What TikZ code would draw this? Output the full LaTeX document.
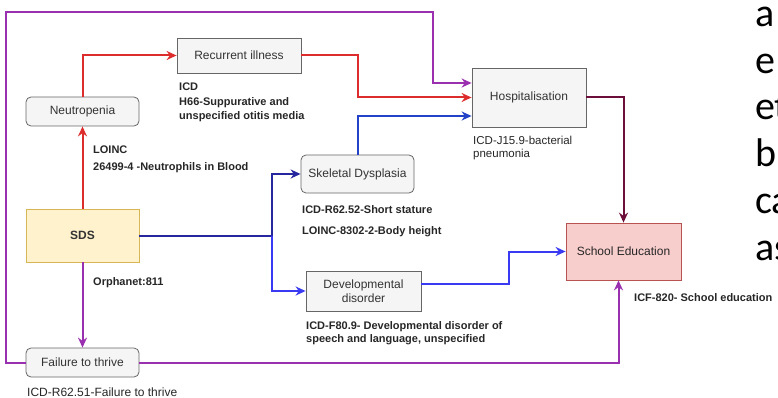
\documentclass[tikz,border=0pt]{standalone}
\usepackage{fontspec}
\setmainfont{Liberation Sans}
\newfontfamily\slidefont{Carlito}
\usetikzlibrary{positioning, calc, arrows.meta}
\definecolor{boxgray}{HTML}{F5F5F5}
\definecolor{boxline}{HTML}{666666}
\definecolor{boxtext}{HTML}{333333}
\definecolor{sdsfill}{HTML}{FFF2CC}
\definecolor{sdsline}{HTML}{D6B656}
\definecolor{schoolfill}{HTML}{F8CECC}
\definecolor{schoolline}{HTML}{B85450}
\definecolor{redl}{HTML}{DD2C2C}
\definecolor{purp}{HTML}{9A30B0}
\definecolor{navy}{HTML}{26269E}
\definecolor{midblue}{HTML}{2442C8}
\definecolor{brightblue}{HTML}{3A3AF2}
\definecolor{maroon}{HTML}{6B0F3A}
\tikzset{box/.style={draw=boxline, fill=boxgray, line width=0.8pt, text=boxtext, font=\fontsize{12}{14}\selectfont, align=center, inner sep=2pt},
rbox/.style={box, rounded corners=5pt},
code/.style={font=\bfseries\fontsize{11}{14}\selectfont, text=black!85, align=left, anchor=north west, inner sep=0pt},
plaincode/.style={code, font=\fontsize{11.5}{13}\selectfont},
slide/.style={anchor=base west, inner sep=0pt, font=\slidefont\fontsize{40}{46}\selectfont},
line/.style={-{Stealth[length=10pt,width=9pt]}, line width=2pt}
}

\begin{document}
\begin{tikzpicture}[x=1pt, y=-1pt]
\useasboundingbox (0,0) rectangle (778,398);
\node[box, minimum width=124pt, minimum height=35pt] (recur) at (239,55.5) {Recurrent illness};
\node[rbox, minimum width=113pt, minimum height=29pt] (neutro) at (82.5,111.5) {Neutropenia};
\node[box, minimum width=114pt, minimum height=59pt] (hosp) at (529,97.5) {Hospitalisation};
\node[rbox, minimum width=113pt, minimum height=38pt] (skel) at (357.5,174) {Skeletal Dysplasia};
\node[box, draw=sdsline, fill=sdsfill, font=\bfseries\fontsize{12}{14}\selectfont, minimum width=113pt, minimum height=53pt] (sds) at (82.5,235.5) {SDS};
\node[box, minimum width=115pt, minimum height=40pt] (devel) at (363.5,291) {Developmental\\disorder};
\node[box, draw=schoolline, fill=schoolfill, text=black!85, minimum width=115pt, minimum height=57pt] (school) at (623.5,251.5) {School Education};
\node[rbox, minimum width=113pt, minimum height=29pt] (ftt) at (82.5,362.5) {Failure to thrive};
\coordinate (split) at (272,235.5);
\coordinate (loopleft) at (6,12);
\coordinate (looptop) at (433,12);
% codes
\node[code] (icdrecur) at (179,82.5) {ICD\\[1pt]H66-Suppurative and\\unspecified otitis media};
\node[code] (loincneutro) at (93,145.5) {LOINC\\[3pt]26499-4 -Neutrophils in Blood};
\node[plaincode] (icdhosp) at (473,135.5) {ICD-J15.9-bacterial\\pneumonia};
\node[code] (icdskel) at (302,205.5) {ICD-R62.52-Short stature\\[7pt]LOINC-8302-2-Body height};
\node[code, anchor=west] (orpha) at (93,283) {Orphanet:811};
\node[code, font=\bfseries\fontsize{11}{13}\selectfont] (icddevel) at (306,321.5) {ICD-F80.9- Developmental disorder of\\speech and language, unspecified};
\node[code, anchor=west] (icfschool) at (634,298) {ICF-820- School education};
\node[plaincode, anchor=west, font=\fontsize{12}{14}\selectfont] (icdftt) at (27,392) {ICD-R62.51-Failure to thrive};
% slide text behind the figure
\foreach \w [count=\i] in {a,e,et,b,ca,as}
  \node[slide] (slide\i) at (755,{26.5+46.7*(\i-1)}) {\w};
% connectors
\draw[line, redl] (sds) -- (neutro);
\draw[line, redl] (neutro) |- (recur);
\draw[line, redl] (recur) -| (skel.north |- hosp.west) -- (hosp.west);
\draw[line, midblue] (skel) |- ([yshift=-18.5pt]hosp.west);
\draw[line, purp] (ftt.west) -| (loopleft) -- (looptop) |- ([yshift=14.5pt]hosp.west);
\draw[navy, line width=2pt] (sds) -- (split);
\draw[line, navy] (split) |- (skel);
\draw[line, brightblue] (split) |- (devel);
\draw[line, brightblue] ([yshift=7pt]devel.east) -- ++(88,0) |- (school);
\draw[line, maroon] (hosp) -| (school);
\draw[line, purp] (sds) -- (ftt);
\draw[line, purp] (ftt) -| ([xshift=-5pt]school.south);
\end{tikzpicture}
\end{document}
